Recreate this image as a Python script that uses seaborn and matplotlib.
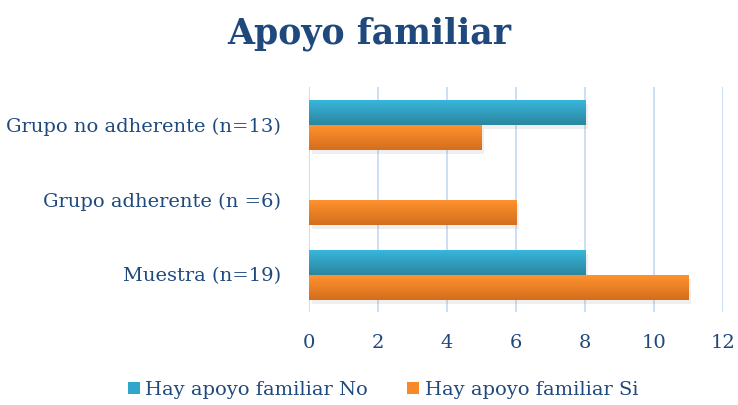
import numpy as np
import pandas as pd
import seaborn as sns
import matplotlib.pyplot as plt
import matplotlib.patheffects as pe
from matplotlib.colors import LinearSegmentedColormap, to_hex

categories = ["Grupo no adherente (n=13)", "Grupo adherente (n =6)", "Muestra (n=19)"]
series_names = ["Hay apoyo familiar No", "Hay apoyo familiar Si"]
apoyo_no = [8, 0, 8]
apoyo_si = [5, 6, 11]
x_ticks = [0, 2, 4, 6, 8, 10, 12]

text_color = "#1F497D"
colors = ["#31A6CB", "#F7892A"]
shades = {"#31a6cb": ("#38B6DC", "#2A869F"), "#f7892a": ("#FF922F", "#D46E1C")}

df = pd.DataFrame({
    "Grupo": categories * 2,
    "Serie": [series_names[0]] * 3 + [series_names[1]] * 3,
    "Valor": apoyo_no + apoyo_si,
})

sns.set_style("white")
plt.rcParams["font.family"] = ["DejaVu Serif"]

fig = plt.figure(figsize=(7.38, 4.05), dpi=100)
ax = fig.add_axes([0.4187, 0.2296, 0.561, 0.555])

sns.barplot(data=df, y="Grupo", x="Valor", hue="Serie", order=categories,
            hue_order=series_names, palette=colors, orient="h",
            width=0.667, gap=0, saturation=1, linewidth=0, ax=ax, zorder=3)

yl = ax.get_ylim()
# gradient fill + soft shadow on each bar
for bar in ax.patches:
    w = bar.get_width()
    if w <= 0:
        continue
    key = to_hex(bar.get_facecolor())
    if key not in shades:
        continue
    bar.set_path_effects([pe.SimplePatchShadow(offset=(2, -3), alpha=0.1, shadow_rgbFace="#666666"), pe.Normal()])
    cmap = LinearSegmentedColormap.from_list("g", shades[key])
    grad = np.linspace(0, 1, 64).reshape(-1, 1)
    x0, y0, h = bar.get_x(), bar.get_y(), bar.get_height()
    ax.imshow(grad, extent=[x0, x0 + w, y0 + h, y0], aspect="auto",
              cmap=cmap, zorder=4, interpolation="bilinear")

ax.set_xlim(0, 12)
ax.set_ylim(yl)
ax.set_xticks(x_ticks)
ax.xaxis.grid(True, color="#C6D9F1", linewidth=1.2, zorder=0)
ax.set_axisbelow(True)
for s in ax.spines.values():
    s.set_visible(False)
ax.set_xlabel("")
ax.set_ylabel("")
ax.tick_params(axis="both", length=0, labelsize=14, labelcolor=text_color)
ax.tick_params(axis="x", pad=16)
ax.tick_params(axis="y", pad=20)

fig.suptitle("Apoyo familiar", fontsize=25, fontweight="bold", color=text_color, y=0.96)

leg = ax.legend(loc="center", bbox_to_anchor=(0.519, 0.037), bbox_transform=fig.transFigure,
                ncol=2, frameon=False, fontsize=14, handlelength=0.6, handleheight=0.6,
                handletextpad=0.3, columnspacing=2.0)
for t in leg.get_texts():
    t.set_color(text_color)

fig.savefig("out.png", dpi=100)
